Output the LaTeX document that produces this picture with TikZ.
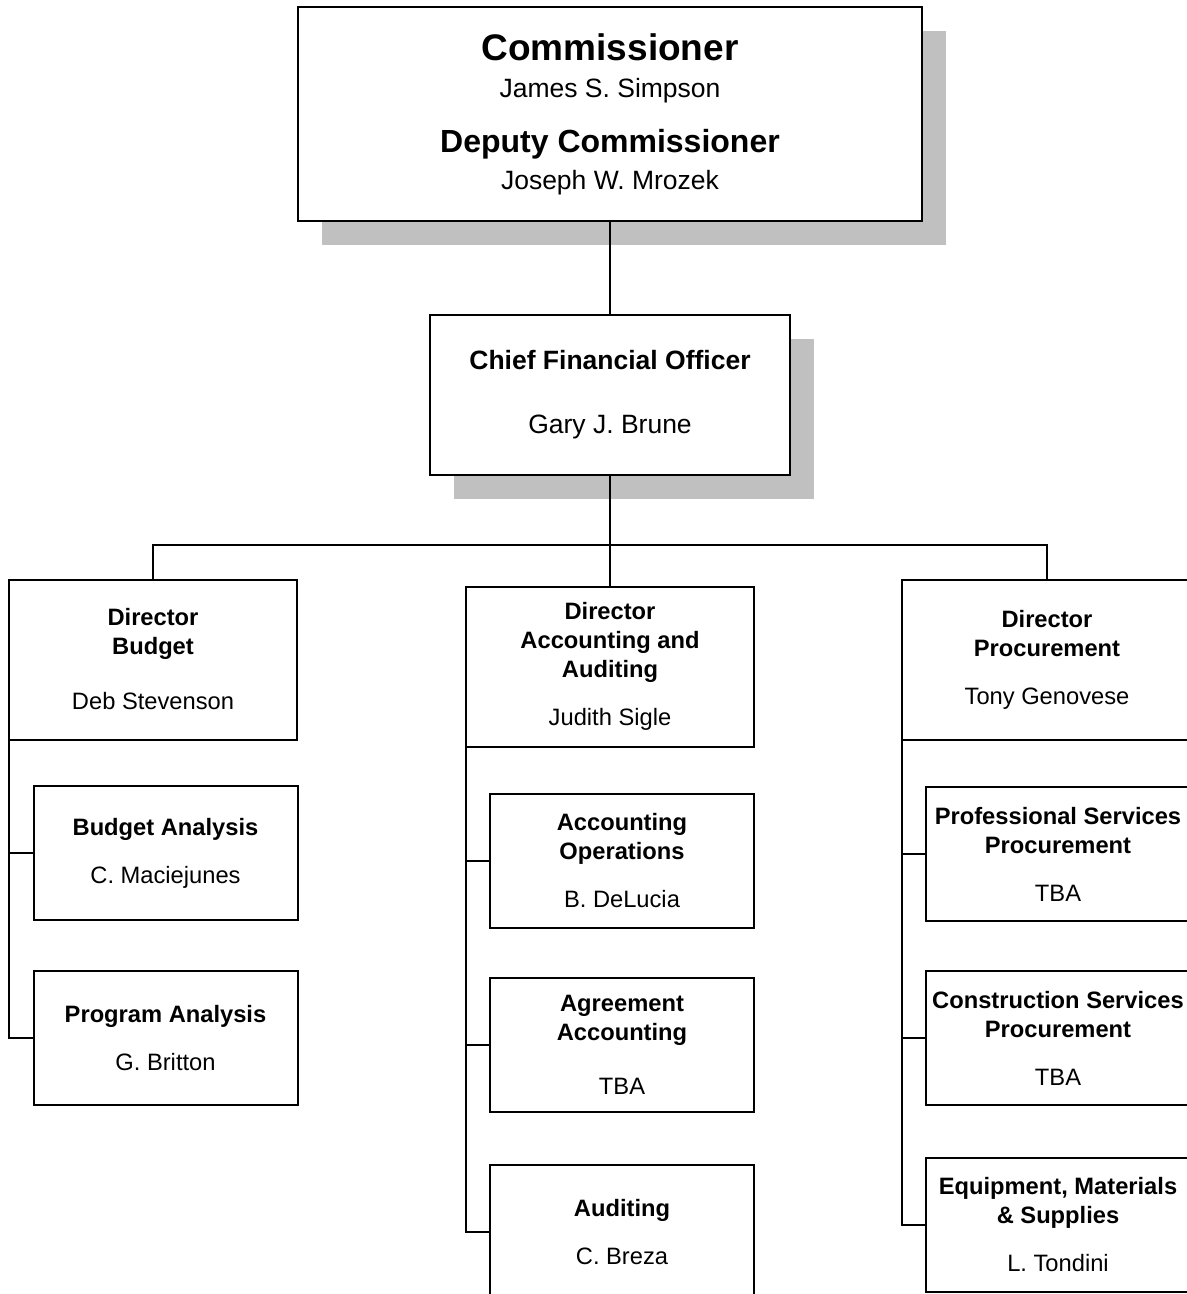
\documentclass[tikz,border=0pt]{standalone}
\usepackage{fontspec}
\setmainfont{Liberation Sans}
\usepackage{xcolor}
\usetikzlibrary{shadows}
\definecolor{shadowgray}{RGB}{192,192,192}

\tikzset{
	box/.style={draw, fill=white, line width=1pt, inner sep=0pt, outer sep=0pt, align=center,
		font=\fontsize{11.85}{14.5}\selectfont},
	topbox/.style={box, general shadow={fill=shadowgray, shadow xshift=12pt, shadow yshift=-12pt}},
	dirbox/.style={box, minimum width=144pt, minimum height=80pt},
	unitbox/.style={box, minimum width=132pt, minimum height=67pt},
	link/.style={line width=0.9pt}
}

\begin{document}
\begin{tikzpicture}[x=0.5pt, y=-0.5pt]
	\useasboundingbox (0,0) rectangle (1187,1294);
	% top of the chart
	\node[topbox, minimum width=312pt, minimum height=107pt, font=\fontsize{13.25}{18.5}\selectfont] (comm) at (610,114)
		{{\fontsize{18.5}{18.5}\selectfont\bfseries Commissioner}\\James S. Simpson\\[9pt]
		 {\fontsize{16}{18.5}\selectfont\bfseries Deputy Commissioner}\\Joseph W. Mrozek};
	\node[topbox, minimum width=180pt, minimum height=80pt, font=\fontsize{13.25}{16}\selectfont] (cfo) at (610,395)
		{\textbf{Chief Financial Officer}\\[16pt]Gary J. Brune};
	% directors
	\node[dirbox] (dbud) at (153,659.5) {\textbf{Director}\\\textbf{Budget}\\[13pt]Deb Stevenson};
	\node[dirbox] (dacc) at (610,666.5) {\textbf{Director}\\\textbf{Accounting and}\\\textbf{Auditing}\\[9.5pt]Judith Sigle};
	\node[dirbox, minimum width=145pt] (dproc) at (1047,659.5) {\textbf{Director}\\\textbf{Procurement}\\[9.5pt]Tony Genovese};
	% budget units
	\node[unitbox] (ba) at (165.5,853) {\textbf{Budget Analysis}\\[9.5pt]C. Maciejunes};
	\node[unitbox] (pa) at (165.5,1038) {\textbf{Program Analysis}\\[9.5pt]G. Britton};
	% accounting units
	\node[unitbox] (ao) at (622,861) {\textbf{Accounting}\\\textbf{Operations}\\[9.5pt]B. DeLucia};
	\node[unitbox] (aa) at (622,1045) {\textbf{Agreement}\\\textbf{Accounting}\\[12.5pt]TBA};
	\node[unitbox] (aud) at (622,1232) {\textbf{Auditing}\\[9.5pt]C. Breza};
	% procurement units
	\node[unitbox] (ps) at (1058,854) {\textbf{Professional Services}\\\textbf{Procurement}\\[9.5pt]TBA};
	\node[unitbox] (cs) at (1058,1038) {\textbf{Construction Services}\\\textbf{Procurement}\\[9.5pt]TBA};
	\node[unitbox] (ems) at (1058,1225) {\textbf{Equipment, Materials}\\\textbf{\& Supplies}\\[9.5pt]L. Tondini};
	% connectors
	\coordinate (bus) at (610,545);
	\draw[link] (comm.south) -- (cfo.north);
	\draw[link] (cfo.south) -- (bus);
	\draw[link] (bus) -| (dbud.north);
	\draw[link] (bus) -| (dproc.north);
	\draw[link] (bus) -- (dacc.north);
	\draw[link] (dbud.south west) |- (pa.west);
	\draw[link] (dacc.south west) |- (aud.west);
	\draw[link] (dproc.south west) |- (ems.west);
	\foreach \u/\d in {ba/dbud, ao/dacc, aa/dacc, ps/dproc, cs/dproc}
		\draw[link] (\u.west) -- (\u.west -| \d.west);
\end{tikzpicture}
\end{document}
